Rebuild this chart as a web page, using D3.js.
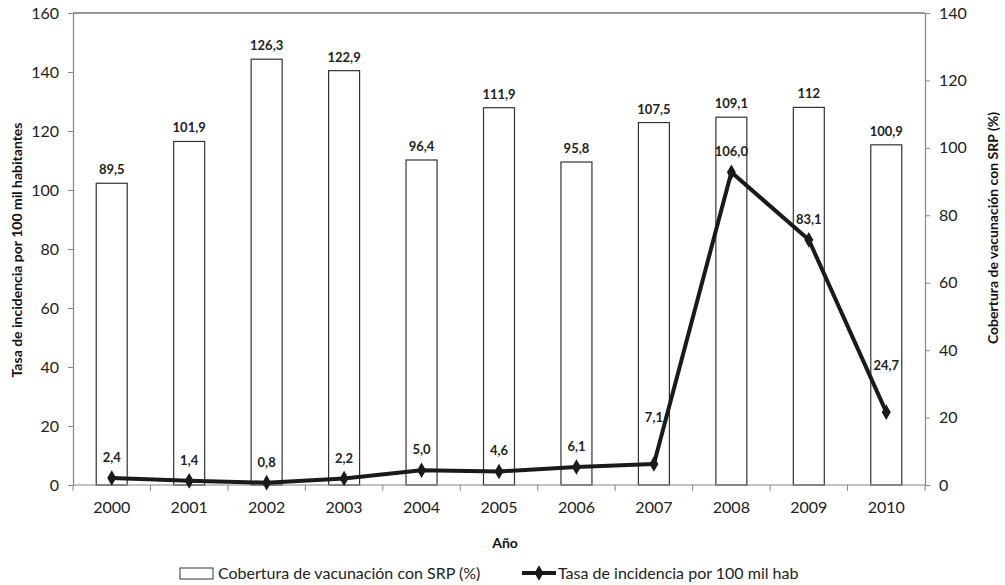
<!DOCTYPE html>
<html>
<head>
<meta charset="utf-8">
<script src="https://cdn.jsdelivr.net/npm/d3@7"></script>
<style>
  body { margin: 0; background: #fff; }
  svg { font-family: Lato, "Open Sans", sans-serif; }
</style>
</head>
<body>
<div id="chart"></div>
<script>
const years = ["2000", "2001", "2002", "2003", "2004", "2005", "2006", "2007", "2008", "2009", "2010"];
const coverage = [89.5, 101.9, 126.3, 122.9, 96.4, 111.9, 95.8, 107.5, 109.1, 112, 100.9];
const incidence = [2.4, 1.4, 0.8, 2.2, 5.0, 4.6, 6.1, 7.1, 106.0, 83.1, 24.7];
const leftTicks = [0, 20, 40, 60, 80, 100, 120, 140, 160];
const rightTicks = [0, 20, 40, 60, 80, 100, 120, 140];

const width = 1005;
const height = 585;
const plotLeft = 73, plotRight = 925, plotTop = 13, plotBottom = 485;

// bar labels drop the decimal on whole numbers (as "112"), line labels keep one
const fmtBar = (v) => (Number.isInteger(v) ? String(v) : v.toFixed(1)).replace(".", ",");
const fmtLine = (v) => v.toFixed(1).replace(".", ",");

const svg = (
    d3.select("#chart")
    .append("svg")
    .attr("width", width)
    .attr("height", height)
);

const xScale = d3.scaleBand().domain(years).range([plotLeft, plotRight]);
const yLeft = d3.scaleLinear().domain([0, 160]).range([plotBottom, plotTop]);
const yRight = d3.scaleLinear().domain([0, 140]).range([plotBottom, plotTop]);

// top border of plot area
svg.append("line")
    .attr("x1", plotLeft).attr("x2", plotRight)
    .attr("y1", plotTop).attr("y2", plotTop)
    .attr("stroke", "#333").attr("stroke-width", 1.2);

// bars (right axis)
const barW = xScale.bandwidth() * 0.4;
svg.append("g").selectAll("rect")
    .data(years)
    .join("rect")
    .attr("x", (d) => xScale(d) + xScale.bandwidth() / 2 - barW / 2)
    .attr("y", (d, i) => yRight(coverage[i]))
    .attr("width", barW)
    .attr("height", (d, i) => plotBottom - yRight(coverage[i]))
    .attr("fill", "#fff")
    .attr("stroke", "#333")
    .attr("stroke-width", 1.2);

svg.append("g").selectAll("text")
    .data(years)
    .join("text")
    .attr("x", (d) => xScale(d) + xScale.bandwidth() / 2)
    .attr("y", (d, i) => yRight(coverage[i]) - 9)
    .attr("text-anchor", "middle")
    .attr("font-size", 13)
    .attr("font-weight", "bold")
    .attr("fill", "#222")
    .text((d, i) => fmtBar(coverage[i]));

// left axis
const axL = svg.append("g")
    .attr("transform", `translate(${plotLeft},0)`)
    .call(d3.axisLeft(yLeft).tickValues(leftTicks).tickSize(5).tickPadding(9));
// right axis
const axR = svg.append("g")
    .attr("transform", `translate(${plotRight},0)`)
    .call(d3.axisRight(yRight).tickValues(rightTicks).tickSize(5).tickPadding(9));
// bottom axis: labels at band centres, ticks at band edges
const axB = svg.append("g")
    .attr("transform", `translate(0,${plotBottom})`)
    .call(d3.axisBottom(xScale).tickSize(0).tickPadding(17));
axB.selectAll(".tick-edge")
    .data(years.map((d) => xScale(d)).concat([plotRight]))
    .join("line")
    .attr("class", "tick-edge")
    .attr("x1", (d) => d).attr("x2", (d) => d)
    .attr("y1", 0).attr("y2", 6)
    .attr("stroke", "#868686");

for (const ax of [axL, axR, axB]) {
    ax.select(".domain").attr("stroke", "#868686").attr("stroke-width", 1.2);
    ax.selectAll(".tick line").attr("stroke", "#868686");
    ax.selectAll(".tick text")
        .attr("font-size", 16)
        .attr("fill", "#222")
        .attr("font-family", "Lato, sans-serif");
}
axB.select(".domain").attr("d", `M${plotLeft},0H${plotRight}`);

// line (left axis)
const cx = (d) => xScale(d) + xScale.bandwidth() / 2;
const line = d3.line()
    .x((d) => cx(d))
    .y((d, i) => yLeft(incidence[i]));
svg.append("path")
    .datum(years)
    .attr("d", line)
    .attr("fill", "none")
    .attr("stroke", "#1a1a1a")
    .attr("stroke-width", 4)
    .attr("stroke-linejoin", "round");

const diamond = d3.symbol().type(d3.symbolDiamond).size(70);
svg.append("g").selectAll("path")
    .data(years)
    .join("path")
    .attr("d", diamond)
    .attr("transform", (d, i) => `translate(${cx(d)},${yLeft(incidence[i])})`)
    .attr("fill", "#1a1a1a");

// labels for the line; two are lifted higher to clear the steep segments
const lift = { "2007": 42, "2010": 42 };
svg.append("g").selectAll("text")
    .data(years)
    .join("text")
    .attr("x", (d) => cx(d))
    .attr("y", (d, i) => yLeft(incidence[i]) - (lift[d] ?? 16))
    .attr("text-anchor", "middle")
    .attr("font-size", 13)
    .attr("font-weight", "bold")
    .attr("fill", "#222")
    .text((d, i) => fmtLine(incidence[i]));

// axis titles
svg.append("text")
    .attr("transform", "translate(22,250) rotate(-90)")
    .attr("text-anchor", "middle")
    .attr("font-size", 14)
    .attr("font-weight", "bold")
    .attr("fill", "#111")
    .text("Tasa de incidencia por 100 mil habitantes");
svg.append("text")
    .attr("transform", "translate(998,228) rotate(-90)")
    .attr("text-anchor", "middle")
    .attr("font-size", 14)
    .attr("font-weight", "bold")
    .attr("fill", "#111")
    .text("Cobertura de vacunación con SRP (%)");
svg.append("text")
    .attr("x", 505).attr("y", 548)
    .attr("text-anchor", "middle")
    .attr("font-size", 14)
    .attr("font-weight", "bold")
    .attr("fill", "#111")
    .text("Año");

// legend
const lg = svg.append("g").attr("font-size", 16).attr("fill", "#222");
lg.append("rect")
    .attr("x", 180).attr("y", 568).attr("width", 33).attr("height", 11)
    .attr("fill", "#fff").attr("stroke", "#333").attr("stroke-width", 1);
lg.append("text").attr("x", 218).attr("y", 579).text("Cobertura de vacunación con SRP (%)");
lg.append("line")
    .attr("x1", 522).attr("x2", 556).attr("y1", 573).attr("y2", 573)
    .attr("stroke", "#1a1a1a").attr("stroke-width", 4);
lg.append("path")
    .attr("d", diamond)
    .attr("transform", "translate(539,573)")
    .attr("fill", "#1a1a1a");
lg.append("text").attr("x", 558).attr("y", 579).text("Tasa de incidencia por 100 mil hab");
</script>
</body>
</html>
